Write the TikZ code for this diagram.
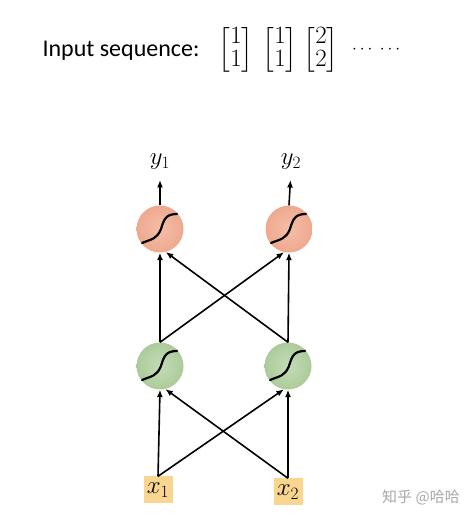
\documentclass[tikz,border=0pt]{standalone}
\usepackage{amsmath}
\usepackage{fontspec}
\usepackage{tikz}
\usetikzlibrary{arrows.meta, positioning, calc}
\newfontfamily\headFont{Carlito}
\newfontfamily\markFont{Noto Sans CJK SC}
\definecolor{outOrange}{HTML}{F5BEA8}
\definecolor{outOrangeDark}{HTML}{EEA98F}
\definecolor{hidGreen}{HTML}{C3DCB5}
\definecolor{hidGreenDark}{HTML}{ACCB9B}
\definecolor{inYellow}{HTML}{F9D68F}
\definecolor{markGray}{HTML}{A8A8A8}
\newcommand{\DrawSigmoid}[1]{
    \begin{scope}[shift={(#1.center)}]
        \draw[sigLine] (-18,-14) .. controls (-8,-10) and (-3,-10) .. (1,0) .. controls (4,10) and (6,15) .. (17,15);
    \end{scope}
}
\tikzset{
    % Neurons
    outNeuron/.style={circle, minimum size=47pt, inner sep=0pt, shade, inner color=outOrange, outer color=outOrangeDark},
    hidNeuron/.style={circle, minimum size=47pt, inner sep=0pt, shade, inner color=hidGreen, outer color=hidGreenDark},
    inBox/.style={rectangle, fill=inYellow, minimum width=29pt, minimum height=27pt, inner sep=0pt, font=\fontsize{23}{23}\selectfont},
    sigLine/.style={black, line width=2.2pt, line cap=round},
    % Connectors
    link/.style={-{Latex[length=7.5pt,width=6pt]}, line width=1.6pt},
    outLabel/.style={inner sep=0pt, font=\fontsize{24}{24}\selectfont},
    % Header
    headText/.style={font=\headFont\fontsize{24}{24}\selectfont, anchor=base west},
    seqMat/.style={inner sep=0pt, font=\fontsize{24}{21.5}\selectfont}
}
\begin{document}
\begin{tikzpicture}[x=1pt, y=1pt]
    \useasboundingbox (0,0) rectangle (474,526);

    % Header
    \node[headText] (seq) at (39, 469) {Input sequence:};
    \node[seqMat] (m1) at (236, 476) {$\begin{bmatrix}1\\1\end{bmatrix}$};
    \node[seqMat] (m2) at (280, 476) {$\begin{bmatrix}1\\1\end{bmatrix}$};
    \node[seqMat] (m3) at (321, 476) {$\begin{bmatrix}2\\2\end{bmatrix}$};
    \node[inner sep=0pt, anchor=west, font=\fontsize{17}{17}\selectfont] (dots) at (352, 476) {$\cdots\;\cdots$};

    % Layers
    \node[inBox] (x1) at (158, 36) {$x_1$};
    \node[inBox] (x2) at (288, 34) {$x_2$};
    \node[hidNeuron] (h1) at (160, 160) {};
    \node[hidNeuron] (h2) at (288, 160) {};
    \node[outNeuron] (o1) at (160, 297) {};
    \node[outNeuron] (o2) at (289, 297) {};
    \foreach \n in {h1, h2, o1, o2} \DrawSigmoid{\n};

    % Outputs
    \node[outLabel, anchor=south] (y1) at (160, 356) {$y_1$};
    \node[outLabel, anchor=south] (y2) at (291, 356) {$y_2$};
    \draw[link, shorten >=10pt] (o1.north) -- (y1.south);
    \draw[link, shorten >=10pt] (o2.north) -- (y2.south);

    % Connections
    \draw[link] (x1.north) -- (h1.south);
    \draw[link] (x1.north) -- (h2.260);
    \draw[link] (x2.north) -- (h2.south);
    \draw[link] (x2.north) -- (h1.283);
    \draw[link] (h1.north) -- (o1.south);
    \draw[link] (h1.north) -- (o2.258);
    \draw[link] (h2.north) -- (o2.south);
    \draw[link] (h2.north) -- (o1.284);

    % Watermark
    \node[text=markGray, font=\markFont\fontsize{15}{15}\selectfont] (mark) at (421, 29) {知乎 @哈哈};
\end{tikzpicture}
\end{document}
